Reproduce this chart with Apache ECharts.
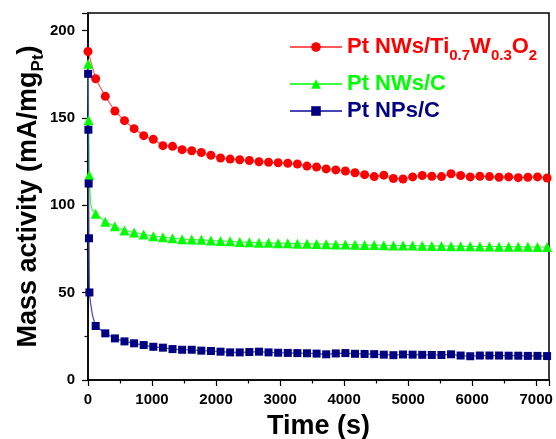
<!DOCTYPE html>
<html>
<head>
<meta charset="utf-8">
<script src="https://cdn.jsdelivr.net/npm/echarts@6/dist/echarts.min.js"></script>
<style>
  html, body { margin: 0; padding: 0; background: #fff; }
  #chart { width: 556px; height: 439px; }
</style>
</head>
<body>
<div id="chart"></div>
<script>
// series names
const names = ['Pt NWs/Ti0.7W0.3O2', 'Pt NWs/C', 'Pt NPs/C'];

// marker times (s), shared by the three curves
const markerTime = [120, 270, 420, 570, 720, 870, 1020, 1170, 1320, 1470,
  1620, 1770, 1920, 2070, 2220, 2370, 2520, 2670, 2820, 2970,
  3120, 3270, 3420, 3570, 3720, 3870, 4020, 4170, 4320, 4470,
  4620, 4770, 4920, 5070, 5220, 5370, 5520, 5670, 5820, 5970,
  6120, 6270, 6420, 6570, 6720, 6870, 7020, 7170];

// Pt NWs/Ti0.7W0.3O2
const redEarlyTime = [0];
const redEarly = [188];
const red = [172.4, 162.3, 153.9, 148.4, 143.8, 139.8, 137.7, 134.1, 133.7, 131.8,
  131.2, 130.2, 128.6, 127.0, 126.4, 126.0, 125.6, 124.9, 124.6, 124.3,
  124.0, 123.6, 122.4, 121.9, 120.8, 120.2, 119.6, 118.6, 117.5, 116.4,
  117.2, 115.3, 115.0, 116.2, 117.0, 116.6, 116.4, 118.0, 117.0, 116.2,
  116.6, 116.4, 116.0, 116.2, 115.8, 116.0, 116.2, 115.6];

// Pt NWs/C
const greenEarlyTime = [3, 10, 20];
const greenEarly = [181, 148.6, 117.1];
const greenCurveTime = [40, 70];
const greenCurve = [101, 97];
const green = [95.2, 90.5, 88.0, 85.5, 84.4, 83.3, 82.3, 81.7, 81.1, 80.6,
  80.4, 80.2, 79.8, 79.6, 79.4, 79.0, 78.8, 78.6, 78.5, 78.3,
  78.2, 78.0, 77.9, 77.8, 77.7, 77.6, 77.5, 77.4, 77.3, 77.2,
  77.1, 77.0, 76.9, 76.9, 76.8, 76.7, 76.7, 76.6, 76.5, 76.5,
  76.4, 76.4, 76.3, 76.3, 76.2, 76.2, 76.1, 76.1];

// Pt NPs/C
const blueEarlyTime = [2, 6, 10, 15, 22];
const blueEarly = [175.2, 143.2, 112.4, 81.1, 50.1];
const blueCurveTime = [40, 70];
const blueCurve = [44, 37];
const blue = [30.9, 26.7, 23.8, 22.1, 21.0, 20.0, 19.0, 18.5, 17.7, 17.3,
  17.3, 16.8, 16.6, 16.2, 15.8, 15.8, 16.0, 16.2, 15.8, 15.6,
  15.5, 15.4, 15.3, 15.1, 14.7, 15.2, 15.4, 15.0, 14.9, 14.8,
  14.5, 14.2, 14.6, 14.5, 14.4, 14.3, 14.3, 14.7, 14.0, 13.6,
  14.0, 14.0, 14.0, 13.9, 13.9, 13.8, 13.8, 13.7];

// axis ticks
const xTicks = [0, 1000, 2000, 3000, 4000, 5000, 6000, 7000];
const yTicks = [0, 50, 100, 150, 200];

const FONT = 'Liberation Sans, Arial, sans-serif';

function buildData(earlyT, earlyV, curveT, curveV, vals) {
  const pts = [];
  earlyT.forEach((t, i) => pts.push({ value: [t, earlyV[i]] }));
  curveT.forEach((t, i) => pts.push({ value: [t, curveV[i]], symbol: 'none' }));
  markerTime.forEach((t, i) => pts.push({ value: [t, vals[i]] }));
  pts.sort((a, b) => a.value[0] - b.value[0]);
  return pts;
}

const chart = echarts.init(document.getElementById('chart'));

const legendBase = {
  orient: 'vertical',
  left: 284,
  itemWidth: 52,
  itemHeight: 12,
  textStyle: { fontFamily: FONT, fontWeight: 'bold', fontSize: 22 }
};

const options = {
  backgroundColor: '#fff',
  animation: false,
  grid: {
    left: 88, right: 7, top: 13, bottom: 59,
    outerBoundsMode: 'none',
    show: true, borderColor: '#000', borderWidth: 1.5
  },
  legend: [
    Object.assign({}, legendBase, {
      top: 31,
      data: [names[0]],
      formatter: () => '{m|Pt NWs/Ti}{s|0.7}{m|W}{s|0.3}{m|O}{s|2}',
      textStyle: {
        fontFamily: FONT, fontWeight: 'bold', fontSize: 22,
        rich: {
          m: { fontFamily: FONT, fontWeight: 'bold', fontSize: 22, color: '#ff0000' },
          s: { fontFamily: FONT, fontWeight: 'bold', fontSize: 15, color: '#ff0000', padding: [18, 0, 0, 0] }
        }
      }
    }),
    Object.assign({}, legendBase, {
      top: 68,
      data: [{ name: names[1], textStyle: { color: '#00ff00' } }]
    }),
    Object.assign({}, legendBase, {
      top: 95,
      data: [{ name: names[2], textStyle: { color: '#000080' } }]
    })
  ],
  xAxis: {
    type: 'value',
    min: 0,
    max: 7200,
    interval: 1000,
    name: 'Time (s)',
    nameLocation: 'middle',
    nameGap: 33,
    nameMoveOverlap: false,
    nameTextStyle: { fontFamily: FONT, fontWeight: 'bold', fontSize: 27, color: '#000' },
    axisLine: { lineStyle: { color: '#000', width: 1.5 } },
    axisTick: { length: 6, lineStyle: { color: '#000', width: 1.2 } },
    minorTick: { show: true, splitNumber: 2, length: 3.5, lineStyle: { color: '#000', width: 1.2 } },
    splitLine: { show: false },
    axisLabel: {
      margin: 12,
      fontFamily: FONT, fontWeight: 'bold', fontSize: 15, color: '#000',
      formatter: v => (xTicks.includes(v) ? String(v) : '')
    }
  },
  yAxis: {
    type: 'value',
    min: 0,
    max: 210,
    interval: 50,
    name: '{b|Mass activity (mA/mg}{s|Pt}{b|)}',
    nameLocation: 'middle',
    nameGap: 41,
    nameMoveOverlap: false,
    nameTextStyle: {
      rich: {
        b: { fontFamily: FONT, fontWeight: 'bold', fontSize: 27, color: '#000' },
        s: { fontFamily: FONT, fontWeight: 'bold', fontSize: 17, color: '#000', padding: [20, 0, 0, 0] }
      }
    },
    axisLine: { show: true, lineStyle: { color: '#000', width: 1.5 } },
    axisTick: { show: true, length: 6, lineStyle: { color: '#000', width: 1.2 } },
    minorTick: { show: true, splitNumber: 2, length: 3.5, lineStyle: { color: '#000', width: 1.2 } },
    splitLine: { show: false },
    axisLabel: {
      margin: 13,
      fontFamily: FONT, fontWeight: 'bold', fontSize: 15, color: '#000',
      formatter: v => (yTicks.includes(v) ? String(v) : '')
    }
  },
  series: [
    {
      name: names[0],
      type: 'line',
      data: buildData(redEarlyTime, redEarly, [], [], red),
      symbol: 'circle',
      symbolSize: 9,
      showAllSymbol: true,
      itemStyle: { color: '#ff0000' },
      lineStyle: { color: '#ff5a5a', width: 1.2 }
    },
    {
      name: names[1],
      type: 'line',
      data: buildData(greenEarlyTime, greenEarly, greenCurveTime, greenCurve, green),
      symbol: 'triangle',
      symbolSize: 10,
      showAllSymbol: true,
      itemStyle: { color: '#00ff00' },
      lineStyle: { color: '#40ff40', width: 1.2 }
    },
    {
      name: names[2],
      type: 'line',
      data: buildData(blueEarlyTime, blueEarly, blueCurveTime, blueCurve, blue),
      symbol: 'rect',
      symbolSize: 8,
      showAllSymbol: true,
      itemStyle: { color: '#000080' },
      lineStyle: { color: '#4848b0', width: 1.2 }
    }
  ]
};

chart.setOption(options);
</script>
</body>
</html>
